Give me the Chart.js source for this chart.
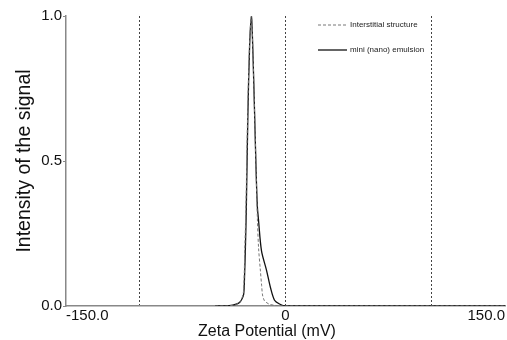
<!DOCTYPE html>
<html lang="en">
  <head>
    <meta charset="UTF-8" />
    <title>Zeta Potential</title>
    <script src="https://cdn.jsdelivr.net/npm/chart.js"></script>
    <style>
      html, body { margin: 0; padding: 0; background: #fff; }
    </style>
  </head>
  <body>
    <canvas id="zetaChart" width="507" height="340"></canvas>

    <script>
      // values
      const emulsionX = [-48, -41.6, -36.1, -32, -30.2, -28.6, -28.0, -27.4, -26.8, -25.7, -24.5, -23.3, -22.3, -21.1, -20, -19.2, -18.5, -16.4, -13, -10.2, -7.5, -4.1, 0, 150];
      const emulsionY = [0, 0, 0.003, 0.01, 0.02, 0.04, 0.1, 0.2, 0.33, 0.66, 0.9, 1.0, 0.88, 0.66, 0.45, 0.34, 0.3, 0.19, 0.124, 0.062, 0.02, 0.007, 0, 0];
      const interstitialX = [-48, -40, -34, -31, -29, -28.4, -27.8, -27.1, -25.9, -24.6, -23.3, -22.3, -21.1, -20, -19.2, -18.4, -17.2, -16.3, -15.7, -14.6, -13.6, -11, -7, -4, 150];
      const interstitialY = [0, 0, 0.005, 0.015, 0.04, 0.08, 0.2, 0.33, 0.66, 0.9, 1.0, 0.88, 0.66, 0.45, 0.3, 0.2, 0.124, 0.07, 0.038, 0.02, 0.014, 0.006, 0.002, 0, 0];
      const seriesLabels = ["Interstitial structure", "mini (nano) emulsion"];
      const xTickValues = [-150, -100, 0, 100, 150];
      const xTickLabels = ["-150.0", "", "0", "", "150.0"];
      const yTickValues = [0, 0.5, 1];
      const yTickLabels = ["0.0", "0.5", "1.0"];
      const xTitle = "Zeta Potential (mV)";
      const yTitle = "Intensity of the signal";

      const FONT = "'Liberation Sans', Arial, sans-serif";
      const toPoints = (xs, ys) => xs.map((x, i) => ({ x: x, y: ys[i] }));

      // legend inside the plot (top right) and the x title, which sits left of centre
      const extras = {
        id: "extras",
        afterDraw(chart) {
          const c = chart.ctx;
          const x0 = 318, x1 = 347, tx = 350;
          const rows = [25, 50];
          c.save();
          c.font = "8px " + FONT;
          c.textBaseline = "middle";
          chart.data.datasets.forEach((ds, i) => {
            c.strokeStyle = ds.borderColor;
            c.lineWidth = ds.borderWidth;
            c.setLineDash(ds.borderDash || []);
            c.beginPath();
            c.moveTo(x0, rows[i]);
            c.lineTo(x1, rows[i]);
            c.stroke();
            c.setLineDash([]);
            c.fillStyle = "#222";
            c.fillText(ds.label, tx, rows[i]);
          });
          c.font = "16px " + FONT;
          c.fillStyle = "#111";
          c.textAlign = "center";
          c.fillText(xTitle, 267, 332);
          c.restore();
        },
      };

      const ctx = document.getElementById("zetaChart").getContext("2d");
      new Chart(ctx, {
        type: "line",
        data: {
          datasets: [
            {
              label: seriesLabels[0],
              data: toPoints(interstitialX, interstitialY),
              borderColor: "#777",
              borderWidth: 1,
              borderDash: [3, 2],
              pointRadius: 0,
              tension: 0.3,
              fill: false,
            },
            {
              label: seriesLabels[1],
              data: toPoints(emulsionX, emulsionY),
              borderColor: "#111",
              borderWidth: 1.3,
              pointRadius: 0,
              tension: 0.3,
              fill: false,
            },
          ],
        },
        options: {
          responsive: false,
          animation: false,
          layout: { padding: { top: 16, right: 2, left: 13, bottom: 0 } },
          plugins: {
            legend: { display: false },
            tooltip: { enabled: false },
          },
          scales: {
            x: {
              type: "linear",
              min: -150,
              max: 150,
              afterBuildTicks: (axis) => {
                axis.ticks = xTickValues.map((v) => ({ value: v }));
              },
              afterFit: (axis) => {
                axis.height = 34;
              },
              ticks: {
                align: "inner",
                autoSkip: false,
                maxRotation: 0,
                padding: 1,
                color: "#111",
                font: { family: FONT, size: 15 },
                callback: (v) => xTickLabels[xTickValues.indexOf(v)],
              },
              grid: {
                drawTicks: false,
                color: (c) =>
                  c.tick && (c.tick.value === -150 || c.tick.value === 150)
                    ? "rgba(0,0,0,0)"
                    : "#444",
                lineWidth: 1,
              },
              border: { color: "#888", width: 1.5, dash: [2, 2] },
            },
            y: {
              type: "linear",
              min: 0,
              max: 1,
              afterBuildTicks: (axis) => {
                axis.ticks = yTickValues.map((v) => ({ value: v }));
              },
              afterFit: (axis) => {
                axis.width = 53;
              },
              ticks: {
                padding: 1,
                color: "#111",
                font: { family: FONT, size: 15 },
                callback: (v) => yTickLabels[yTickValues.indexOf(v)],
              },
              grid: {
                drawOnChartArea: false,
                tickLength: 3,
                color: "#888",
              },
              border: { color: "#888", width: 1.5 },
              title: {
                display: true,
                text: yTitle,
                color: "#111",
                padding: 0,
                font: { family: FONT, size: 19.5 },
              },
            },
          },
        },
        plugins: [extras],
      });
    </script>
  </body>
</html>
